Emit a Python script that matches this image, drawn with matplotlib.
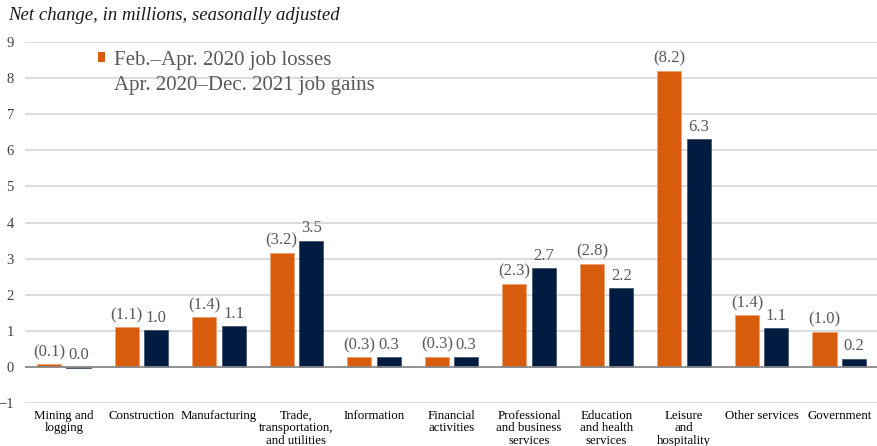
import numpy as np
import matplotlib
matplotlib.use("Agg")
import matplotlib.pyplot as plt
from matplotlib.patches import Patch

# --- Data (millions, seasonally adjusted) ---
categories = [
    "Mining and\nlogging", "Construction", "Manufacturing",
    "Trade,\ntransportation,\nand utilities", "Information",
    "Financial\nactivities", "Professional\nand business\nservices",
    "Education\nand health\nservices", "Leisure\nand\nhospitality",
    "Other services", "Government",
]
losses = [0.07, 1.10, 1.37, 3.16, 0.27, 0.28, 2.30, 2.85, 8.20, 1.43, 0.98]
gains = [-0.02, 1.03, 1.13, 3.50, 0.27, 0.28, 2.73, 2.18, 6.32, 1.08, 0.23]
loss_labels = ["(0.1)", "(1.1)", "(1.4)", "(3.2)", "(0.3)", "(0.3)",
               "(2.3)", "(2.8)", "(8.2)", "(1.4)", "(1.0)"]
gain_labels = ["0.0", "1.0", "1.1", "3.5", "0.3", "0.3",
               "2.7", "2.2", "6.3", "1.1", "0.2"]

ORANGE = "#d85c0b"
NAVY = "#021c41"
GRAY_TEXT = "#595959"

plt.rcParams["font.family"] = ["Liberation Serif", "DejaVu Serif"]

fig = plt.figure(figsize=(8.78, 4.46), dpi=100)
ax = fig.add_axes([25 / 878, 1 - 403 / 446, 853 / 878, (403 - 42) / 446])

x = np.arange(len(categories))
w = 0.31
off = 0.19
ax.bar(x - off, losses, w, color=ORANGE, edgecolor="#f0a070", linewidth=0.5, zorder=3)
ax.bar(x + off, gains, w, color=NAVY, edgecolor="#3a4a66", linewidth=0.5, zorder=3)

for i in range(len(categories)):
    ax.annotate(loss_labels[i], (x[i] - off, max(losses[i], 0)), xytext=(0, 3),
                textcoords="offset points", ha="center", va="bottom",
                fontsize=12, color=GRAY_TEXT)
    ax.annotate(gain_labels[i], (x[i] + off, max(gains[i], 0)), xytext=(0, 3),
                textcoords="offset points", ha="center", va="bottom",
                fontsize=12, color=GRAY_TEXT)

ax.set_xlim(-0.5, len(categories) - 0.5)
ax.set_ylim(-1, 9)
ax.set_yticks(range(-1, 10))
ax.set_yticklabels(["\u22121"] + [str(v) for v in range(0, 10)])
for v in range(-1, 10):
    ax.axhline(v, color="#898989" if v == 0 else "#d9d9d9",
               linewidth=1.3, zorder=1 if v else 4)

ax.set_xticks(x)
ax.set_xticklabels(categories, fontsize=9.3, linespacing=1.05)
ax.tick_params(axis="x", length=0, pad=5)
ax.tick_params(axis="y", length=0, pad=8, labelsize=10.5)
for lbl in ax.get_yticklabels():
    lbl.set_color("#404040")
for s in ax.spines.values():
    s.set_visible(False)

handles = [Patch(facecolor=ORANGE, edgecolor="none"),
           Patch(facecolor="none", edgecolor="none")]
leg = ax.legend(handles, ["Feb.\u2013Apr. 2020 job losses",
                          "Apr. 2020\u2013Dec. 2021 job gains"],
                loc="upper left", bbox_to_anchor=(0.073, 1.005), frameon=False,
                fontsize=15, handlelength=0.35, handleheight=0.35,
                handletextpad=0.45, labelspacing=0.3, borderpad=0)
for t in leg.get_texts():
    t.set_color(GRAY_TEXT)

fig.text(8 / 878, 1 - 15 / 446, "Net change, in millions, seasonally adjusted",
         fontsize=13.5, style="italic", color="#1a1a1a", ha="left", va="center")

fig.savefig("out.png", dpi=100)
